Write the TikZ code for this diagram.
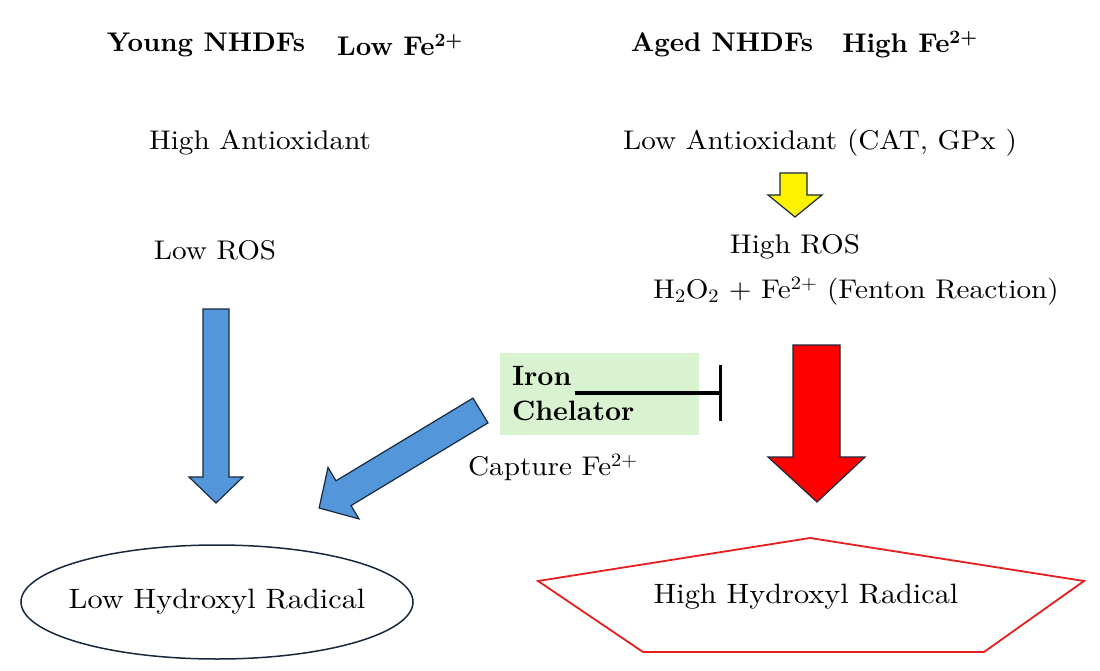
\documentclass[tikz,border=0pt]{standalone}
\usepackage{fontspec}
\setmainfont{lmroman10-regular.otf}[FakeStretch=1.08]
\newfontfamily\bfont{lmroman10-bold.otf}
\usetikzlibrary{shapes.geometric,arrows.meta}
\definecolor{boxgreen}{RGB}{217,242,208}
\definecolor{arrblue}{RGB}{84,150,218}
\definecolor{navy}{RGB}{22,40,60}
\definecolor{penred}{RGB}{230,30,30}
\begin{document}
\begin{tikzpicture}[x=1pt,y=-1pt,
  txt/.style={inner sep=0pt,font=\fontsize{27}{32}\selectfont},
  hdr/.style={inner sep=0pt,font=\fontsize{27}{32}\selectfont\bfont},
  blockarrow/.style={draw=navy,line width=1.2pt,line join=miter}]
\useasboundingbox (0,0) rectangle (1100,671);
% headers
\node[hdr] (young) at (206,45) {Young NHDFs};
\node[hdr] (lowfe) at (400,45) {Low Fe\textsuperscript{2+}};
\node[hdr] (aged) at (722,45) {Aged NHDFs};
\node[hdr] (highfe) at (910,45) {High Fe\textsuperscript{2+}};
% left column
\node[txt] (hanti) at (260,143) {High Antioxidant};
\node[txt] (lros) at (215,250) {Low ROS};
% right column
\node[txt] (lanti) at (820,143) {Low Antioxidant (CAT, GPx )};
\node[txt] (hros) at (795,247) {High ROS};
\node[txt] (fenton) at (856,291) {H\textsubscript{2}O\textsubscript{2} + Fe\textsuperscript{2+} (Fenton Reaction)};
% chelator box
\node[fill=boxgreen,minimum width=199,minimum height=82,text width=175,inner xsep=12,inner ysep=0,align=left,
  font=\fontsize{28}{35}\selectfont\bfont] (chel) at (599.5,394) {Iron\\Chelator};
\node[txt] (capture) at (553,467) {Capture Fe\textsuperscript{2+}};
% outcomes
\node[ellipse,draw=navy,line width=1.5pt,minimum width=392,minimum height=114,inner xsep=-40pt,inner ysep=0pt,
  font=\fontsize{28}{30}\selectfont] (lowhr) at (217,602) {Low Hydroxyl Radical};
\coordinate (pt) at (810,538);
\coordinate (pl) at (538,581);
\coordinate (pr) at (1084,581);
\coordinate (pbr) at (984,652);
\coordinate (pbl) at (643,652);
\draw[penred,line width=1.8pt] (pt) -- (pr) -- (pbr) -- (pbl) -- (pl) -- cycle;
\node[inner sep=0pt,font=\fontsize{28}{30}\selectfont] (highhr) at (806,597) {High Hydroxyl Radical};
% yellow arrow
\draw[blockarrow,fill=yellow] (780,173) -- (807,173) -- (807,195) -- (822,195) -- (795,217) -- (768,195) -- (780,195) -- cycle;
% blue down arrow
\draw[blockarrow,fill=arrblue] (203,309) -- (229,309) -- (229,477) -- (243,477) -- (216,503) -- (189,477) -- (203,477) -- cycle;
% red arrow
\draw[blockarrow,fill=red] (793,345) -- (840,345) -- (840,457) -- (865,457) -- (817,502) -- (768,457) -- (793,457) -- cycle;
% diagonal blue arrow
\draw[blockarrow,fill=arrblue] (473,398.1) -- (488,422.9) -- (351,505.6) -- (359,518.9) -- (319.1,508) -- (328,467.5) -- (336,480.8) -- cycle;
% inhibition
\coordinate (inhs) at (575,393);
\coordinate (inhe) at (722,393);
\draw[line width=3.5pt,-{Bar[width=56pt]}] (inhs) -- (inhe);
\end{tikzpicture}
\end{document}
